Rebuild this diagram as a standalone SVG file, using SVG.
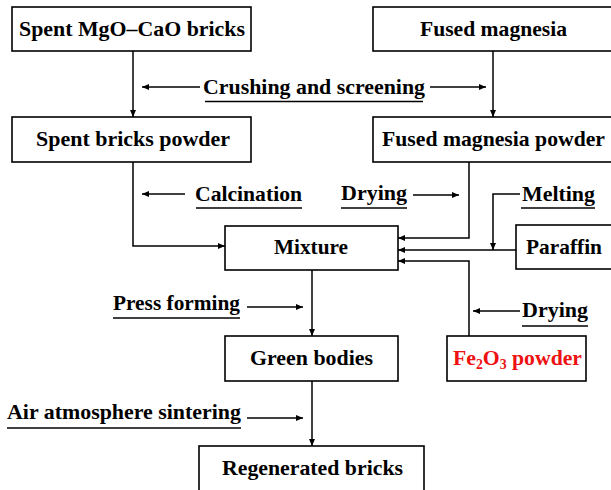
<svg xmlns="http://www.w3.org/2000/svg" width="611" height="490" viewBox="0 0 611 490">
<style>
.box{fill:#fff;stroke:#000;stroke-width:1.6}
.t{font-family:"Liberation Serif","Times New Roman",serif;font-weight:bold;font-size:22px;fill:#000}
.red{fill:#ee1111}
.ln{fill:none;stroke:#000;stroke-width:1.5}
.ul{fill:none;stroke:#000;stroke-width:1.6}
</style>
<defs>
<marker id="ah" markerUnits="userSpaceOnUse" markerWidth="8" markerHeight="6" refX="7" refY="3" orient="auto">
<path d="M0,0 L7,3 L0,6 Z" fill="#000"/>
</marker>
</defs>
<rect width="611" height="490" fill="#fff"/>
<g id="connectors">
<path class="ln" d="M133 51 V117" marker-end="url(#ah)"/>
<path class="ln" d="M493 51 V117" marker-end="url(#ah)"/>
<path class="ln" d="M133 162 V246 H225" marker-end="url(#ah)"/>
<path class="ln" d="M469 162 V238 H398" marker-end="url(#ah)"/>
<path class="ln" d="M516 250 H398" marker-end="url(#ah)"/>
<path class="ln" d="M469 336 V261 H398" marker-end="url(#ah)"/>
<path class="ln" d="M520 194 H493 V250" marker-end="url(#ah)"/>
<path class="ln" d="M312 270 V336" marker-end="url(#ah)"/>
<path class="ln" d="M312 381 V446" marker-end="url(#ah)"/>
<path class="ln" d="M200 87 H142" marker-end="url(#ah)"/>
<path class="ln" d="M430 87 H486" marker-end="url(#ah)"/>
<path class="ln" d="M185 194 H142" marker-end="url(#ah)"/>
<path class="ln" d="M413 195 H459" marker-end="url(#ah)"/>
<path class="ln" d="M520 311 H473" marker-end="url(#ah)"/>
<path class="ln" d="M247 307 H303" marker-end="url(#ah)"/>
<path class="ln" d="M247 418 H303" marker-end="url(#ah)"/>
</g>
<g id="labels">
<text class="t" x="203" y="94" textLength="222" lengthAdjust="spacingAndGlyphs">Crushing and screening</text>
<path class="ul" d="M205 101.5 H423"/>
<text class="t" x="195" y="201" textLength="107" lengthAdjust="spacingAndGlyphs">Calcination</text>
<path class="ul" d="M196 208 H302"/>
<text class="t" x="341" y="200" textLength="66" lengthAdjust="spacingAndGlyphs">Drying</text>
<path class="ul" d="M341 208 H407"/>
<text class="t" x="522" y="201" textLength="73" lengthAdjust="spacingAndGlyphs">Melting</text>
<path class="ul" d="M521 208 H595"/>
<text class="t" x="113" y="310" textLength="127" lengthAdjust="spacingAndGlyphs">Press forming</text>
<path class="ul" d="M113 318 H240"/>
<text class="t" x="522" y="317" textLength="66" lengthAdjust="spacingAndGlyphs">Drying</text>
<path class="ul" d="M522 326 H588"/>
<text class="t" x="7" y="419" textLength="234" lengthAdjust="spacingAndGlyphs">Air atmosphere sintering</text>
<path class="ul" d="M7 428 H241"/>
</g>
<g id="n1"><rect class="box" x="12" y="7" width="239" height="44"/><text class="t" x="19" y="36" textLength="226" lengthAdjust="spacingAndGlyphs">Spent MgO–CaO bricks</text></g>
<g id="n2"><rect class="box" x="373" y="7" width="245" height="44"/><text class="t" x="420" y="36" textLength="147" lengthAdjust="spacingAndGlyphs">Fused magnesia</text></g>
<g id="n3"><rect class="box" x="12" y="117" width="239" height="45"/><text class="t" x="36" y="146" textLength="194" lengthAdjust="spacingAndGlyphs">Spent bricks powder</text></g>
<g id="n4"><rect class="box" x="373" y="117" width="245" height="45"/><text class="t" x="382" y="146" textLength="223" lengthAdjust="spacingAndGlyphs">Fused magnesia powder</text></g>
<g id="n5"><rect class="box" x="225" y="226" width="173" height="44"/><text class="t" x="274" y="254" textLength="74" lengthAdjust="spacingAndGlyphs">Mixture</text></g>
<g id="n6"><rect class="box" x="516" y="225" width="102" height="44"/><text class="t" x="526" y="254" textLength="76" lengthAdjust="spacingAndGlyphs">Paraffin</text></g>
<g id="n7"><rect class="box" x="225" y="336" width="173" height="45"/><text class="t" x="250" y="365" textLength="123" lengthAdjust="spacingAndGlyphs">Green bodies</text></g>
<g id="n8"><rect class="box" x="447" y="336" width="139" height="45"/><text class="t red" x="453" y="365" textLength="129" lengthAdjust="spacingAndGlyphs">Fe<tspan font-size="14" dy="4">2</tspan><tspan dy="-4">O</tspan><tspan font-size="14" dy="4">3</tspan><tspan dy="-4"> powder</tspan></text></g>
<g id="n9"><rect class="box" x="199" y="446" width="225" height="50"/><text class="t" x="222" y="475" textLength="181" lengthAdjust="spacingAndGlyphs">Regenerated bricks</text></g>
</svg>
